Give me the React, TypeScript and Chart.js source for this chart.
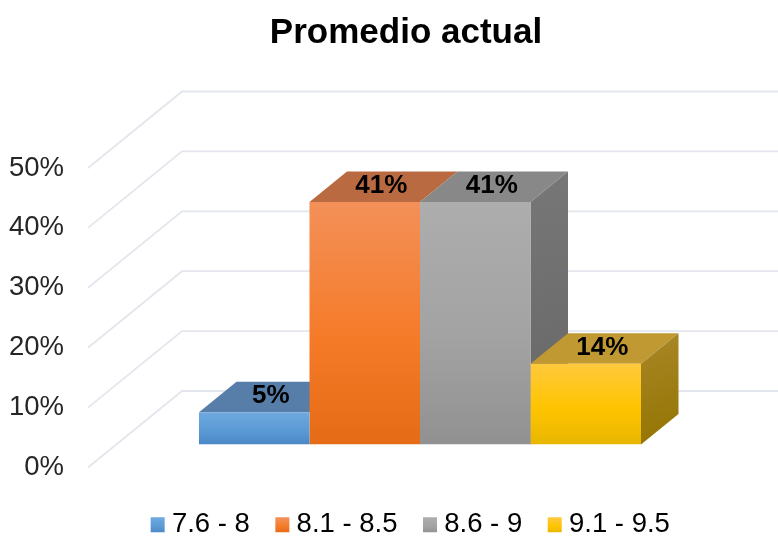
import { useEffect, useRef } from "react";
import { Chart, registerables } from "chart.js";

Chart.register(...registerables);

const chartTitle = "Promedio actual";
const rangeLabels = ["7.6 - 8", "8.1 - 8.5", "8.6 - 9", "9.1 - 9.5"];
const shares = [5.4, 40.5, 40.5, 13.5];
const axisTicks = [0, 10, 20, 30, 40, 50];

const frontStops = [
  ["#6fa8df", "#5b9bd5", "#4a87c7"],
  ["#f39059", "#f57b29", "#e56b16"],
  ["#adadad", "#a3a3a3", "#919191"],
  ["#ffc93d", "#ffc400", "#e8b600"],
];
const topColors = ["#567ea8", "#b96a40", "#888888", "#c19933"];
const sideStops = [
  ["#4f769c", "#3f6285"],
  ["#a9623a", "#8f4d24"],
  ["#777777", "#666666"],
  ["#a98728", "#937400"],
];

const FONT = "'Liberation Sans', Arial, sans-serif";
const WALL_DX = 94;
const WALL_DY = 76.5;
const WALL_LEFT = 88;
const BAR_SHIFT_Y = -23;
const DEPTH_DX = 37.5;
const DEPTH_DY = 30.5;

function threeStop(ctx: CanvasRenderingContext2D, y0: number, y1: number, stops: string[]) {
  const g = ctx.createLinearGradient(0, y0, 0, y1);
  g.addColorStop(0, stops[0]);
  g.addColorStop(0.55, stops[1]);
  g.addColorStop(1, stops[2]);
  return g;
}

// Floor, side wall and back wall rules, then the depth faces and value labels of the bars.
const depthPlugin = {
  id: "depth",
  afterLayout(chart: any) {
    chart.titleBlock.left = 34;
    chart.titleBlock.right = 778;
    chart.legend.left = 49;
    chart.legend.right = 778;
  },
  beforeDatasetsDraw(chart: any) {
    const { ctx, scales } = chart;
    ctx.save();
    ctx.strokeStyle = "#e3e6ed";
    ctx.lineWidth = 1.8;
    for (const v of axisTicks) {
      const y = scales.y.getPixelForValue(v);
      ctx.beginPath();
      ctx.moveTo(WALL_LEFT, y);
      ctx.lineTo(WALL_LEFT + WALL_DX, y - WALL_DY);
      ctx.lineTo(778, y - WALL_DY);
      ctx.stroke();
    }
    ctx.restore();

    ctx.save();
    ctx.translate(0, BAR_SHIFT_Y);
    chart.data.datasets.forEach((_: any, i: number) => {
      const bar = chart.getDatasetMeta(i).data[0];
      const { x, y, base, width } = bar.getProps(["x", "y", "base", "width"], true);
      const l = x - width / 2;
      const r = x + width / 2;
      ctx.fillStyle = topColors[i];
      ctx.beginPath();
      ctx.moveTo(l, y);
      ctx.lineTo(l + DEPTH_DX, y - DEPTH_DY);
      ctx.lineTo(r + DEPTH_DX, y - DEPTH_DY);
      ctx.lineTo(r, y);
      ctx.closePath();
      ctx.fill();

      // A side face is hidden when the neighbouring bar is at least as tall.
      if (i < shares.length - 1 && shares[i + 1] >= shares[i]) return;
      const side = ctx.createLinearGradient(r, y - DEPTH_DY, r + DEPTH_DX, base);
      side.addColorStop(0, sideStops[i][0]);
      side.addColorStop(1, sideStops[i][1]);
      ctx.fillStyle = side;
      ctx.beginPath();
      ctx.moveTo(r, y);
      ctx.lineTo(r + DEPTH_DX, y - DEPTH_DY);
      ctx.lineTo(r + DEPTH_DX, base - DEPTH_DY);
      ctx.lineTo(r, base);
      ctx.closePath();
      ctx.fill();
    });
  },
  afterDatasetsDraw(chart: any) {
    const { ctx } = chart;
    ctx.fillStyle = "#000000";
    ctx.font = `bold 26px ${FONT}`;
    ctx.textAlign = "center";
    ctx.textBaseline = "middle";
    chart.data.datasets.forEach((ds: any, i: number) => {
      const bar = chart.getDatasetMeta(i).data[0];
      const { x, y } = bar.getProps(["x", "y"], true);
      ctx.fillText(`${Math.round(ds.data[0])}%`, x + 16.5, y - 16);
    });
    ctx.restore();
  },
};

export default function App() {
  const ref = useRef<HTMLCanvasElement>(null);

  useEffect(() => {
    const canvas = ref.current;
    if (!canvas) return;
    const chart = new Chart(canvas, {
      type: "bar",
      data: {
        labels: [""],
        datasets: rangeLabels.map((label, i) => ({
          label,
          data: [shares[i]],
          borderWidth: 0,
          barPercentage: 1,
          categoryPercentage: 442 / 712,
          backgroundColor: (c: any) => {
            const s = c.chart.scales.y;
            if (!s || !c.chart.chartArea) return frontStops[i][1];
            return threeStop(c.chart.ctx, s.getPixelForValue(shares[i]), s.getPixelForValue(0), frontStops[i]);
          },
        })),
      },
      plugins: [depthPlugin],
      options: {
        responsive: false,
        animation: false,
        events: [],
        layout: { padding: { left: 0, right: 2, top: 0, bottom: -10.5 } },
        scales: {
          x: {
            display: true,
            grid: { display: false },
            border: { display: false },
            ticks: { display: false },
            afterFit: (s: any) => {
              s.height = 11.5;
            },
          },
          y: {
            min: 0,
            max: 50,
            afterBuildTicks: (s: any) => {
              s.ticks = axisTicks.map((value) => ({ value }));
            },
            grid: { display: false, drawTicks: false },
            border: { display: false },
            ticks: {
              padding: 0,
              color: "#262626",
              font: { family: FONT, size: 27.5 },
              callback: (v: any) => `${v}%`,
            },
            afterFit: (s: any) => {
              s.width = 64;
            },
          },
        },
        plugins: {
          tooltip: { enabled: false },
          title: {
            display: true,
            text: chartTitle,
            color: "#000000",
            font: { family: FONT, size: 35, weight: "bold" },
            padding: { top: 12, bottom: 114 },
          },
          legend: {
            position: "bottom",
            labels: {
              boxWidth: 1,
              boxHeight: 2,
              padding: 32,
              color: "#262626",
              font: { family: FONT, size: 27.5 },
              generateLabels: (c: any) =>
                rangeLabels.map((text, i) => {
                  const g = threeStop(c.ctx, 518, 533, frontStops[i]);
                  return { text, fillStyle: g, strokeStyle: g, lineWidth: 13, datasetIndex: i, hidden: false };
                }),
            },
          },
        },
      },
    } as any);
    return () => chart.destroy();
  }, []);

  return (
    <div style={{ position: "fixed", left: 0, top: 0, width: 778, height: 538, background: "#ffffff" }}>
      <canvas ref={ref} width={778} height={538} style={{ display: "block" }} />
    </div>
  );
}
